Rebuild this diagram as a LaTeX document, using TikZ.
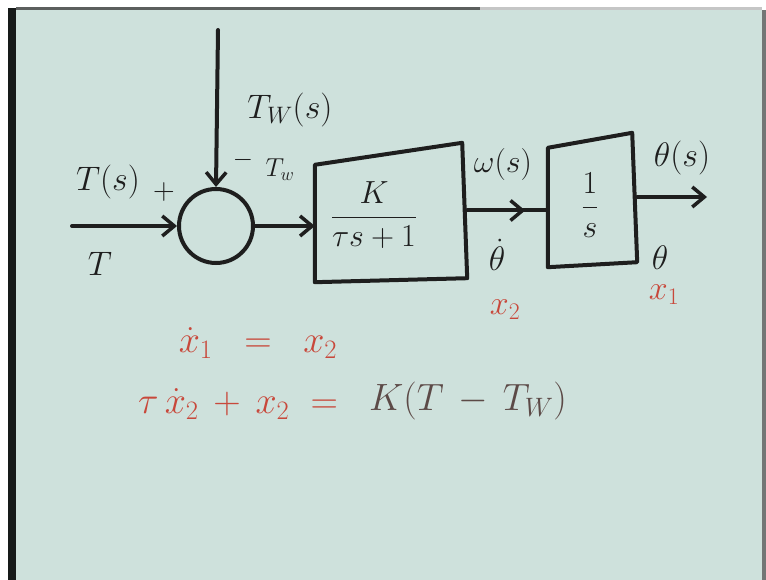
\RequirePackage{fix-cm}
\documentclass[tikz,border=0pt]{standalone}
\usetikzlibrary{arrows.meta,decorations.markings}
\definecolor{board}{HTML}{CEE1DC}
\definecolor{ink}{HTML}{1E1E1E}
\definecolor{redink}{HTML}{C8483B}
\definecolor{brownink}{HTML}{5C4A47}
\definecolor{edge}{HTML}{161A19}
\tikzset{
  wire/.style={draw=ink, line width=4pt, line cap=round, line join=round},
  arr/.style={wire, -{Straight Barb[length=12pt,width=20pt,line width=3.5pt]}},
  blockbox/.style={minimum width=152pt, minimum height=139pt, inner sep=0pt},
  lbl/.style={text=ink, inner sep=0pt, font=\fontsize{34}{40}\selectfont},
  slbl/.style={text=ink, inner sep=0pt, font=\fontsize{26}{30}\selectfont},
  rlbl/.style={text=redink, inner sep=0pt, font=\fontsize{34}{40}\selectfont},
  blbl/.style={text=brownink, inner sep=0pt, font=\fontsize{38}{44}\selectfont},
}
\begin{document}
\begin{tikzpicture}[x=1pt,y=-1pt]
\useasboundingbox (0,0) rectangle (766,580);
% background
\fill[white] (0,0) rectangle (766,580);
\fill[board] (15,8) rectangle (762,580);
\fill[edge] (8,8) rectangle (16,580);
\fill[edge!70!white] (16,7) rectangle (480,10);
\fill[edge!25!white] (480,7) rectangle (762,10);
\fill[edge!60!white] (762,10) rectangle (766,580);
% summing junction
\node[draw=ink, line width=4pt, circle, minimum size=74pt, inner sep=0pt] (sum) at (216,226) {};
\coordinate (twin) at (218,30);
\coordinate (tin) at (72,226);
% blocks
\node[blockbox] (b1) at (391,212.5) {};
\node[blockbox, minimum width=89pt, minimum height=134pt] (b2) at (592.5,200) {};
\draw[wire] ([yshift=-22pt]b1.north west) -- ([xshift=-5pt]b1.north east) -- ([yshift=4pt]b1.south east) -- (b1.south west) -- cycle;
\draw[wire] ([yshift=-15pt]b2.north west) -- ([xshift=-5pt]b2.north east) -- ([yshift=5pt]b2.south east) -- (b2.south west) -- cycle;
\node[text=ink, inner sep=0pt, font=\fontsize{32}{38}\selectfont] (g1) at (374,215) {$\displaystyle\frac{K}{\tau s+1}$};
\node[text=ink, inner sep=0pt, font=\fontsize{32}{38}\selectfont] (g2) at (590,205) {$\displaystyle\frac{1}{s}$};
\coordinate (tout) at (707,197);
% connectors
\draw[arr] (twin) -- (sum.north);
\draw[arr] (tin) -- (sum.west);
\draw[arr] (sum.east) -- (sum.east -| b1.west);
\draw[wire, postaction={decorate}, decoration={markings, mark=at position 0.72 with {\arrow{Straight Barb[length=12pt,width=20pt,line width=3.5pt]}}}] ([yshift=2pt]b1.east) -- ([yshift=2pt]b1.east -| b2.west);
\draw[arr] ([yshift=3pt]b2.east) -- (tout);
% labels
\node[lbl] (lTs) at (108,182) {$T(s)$};
\node[slbl, font=\fontsize{30}{34}\selectfont] (lplus) at (164,192) {$+$};
\node[lbl] (lT) at (100,264) {$T$};
\node[lbl] (lTWs) at (290,110) {$T_W(s)$};
\node[slbl] (lminus) at (243,160) {$-$};
\node[slbl] (lTw) at (280,170) {$T_w$};
\node[lbl, font=\fontsize{32}{38}\selectfont] (lws) at (503,165) {$\omega(s)$};
\node[lbl] (lthd) at (497,255) {$\dot\theta$};
\node[rlbl] (lx2) at (505,310) {$x_2$};
\node[lbl] (lths) at (682,158) {$\theta(s)$};
\node[lbl] (lth) at (660,258) {$\theta$};
\node[rlbl] (lx1) at (664,295) {$x_1$};
% equations
\node[rlbl, font=\fontsize{38}{44}\selectfont] (eq1) at (258,343) {$\dot x_1 \;\;=\;\; x_2$};
\node[rlbl, font=\fontsize{38}{44}\selectfont] (eq2a) at (238,404) {$\tau\,\dot x_2 \,+\, x_2 \;=$};
\node[blbl] (eq2b) at (468,401) {$K(T \,-\, T_W)$};
\end{tikzpicture}
\end{document}
